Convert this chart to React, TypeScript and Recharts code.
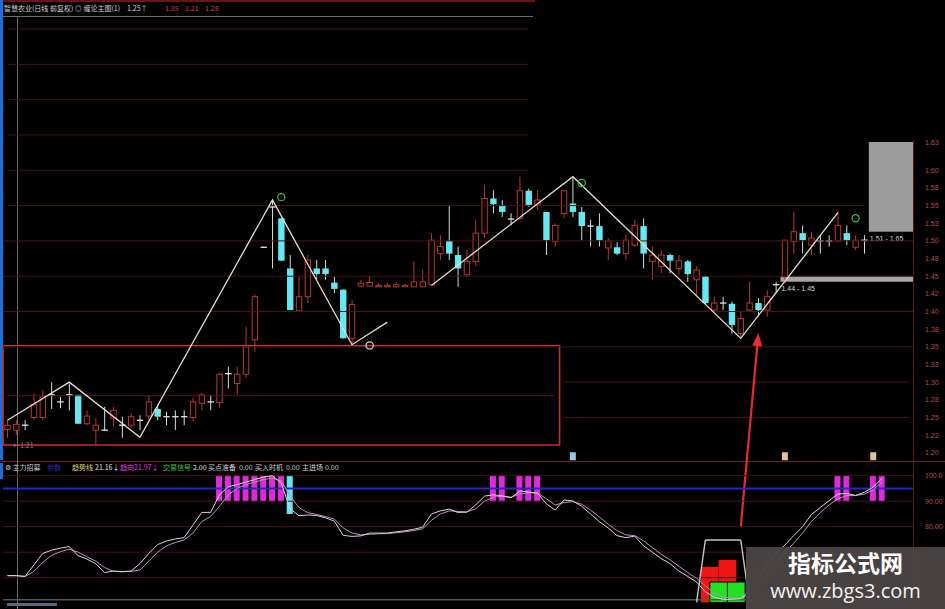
import React from 'react';
import {
  ComposedChart, Bar, Line, XAxis, YAxis, ReferenceLine, ReferenceArea, ReferenceDot, Cell,
} from 'recharts';

// daily candles (index 0 .. 97)
const opens = [1.233, 1.232, 1.239, 1.250, 1.250, 1.282, 1.272, 1.282, 1.282, 1.241,
  1.232, 1.232, 1.249, 1.239, 1.239, 1.246, 1.252, 1.262, 1.251, 1.251,
  1.251, 1.250, 1.270, 1.272, 1.271, 1.312, 1.298, 1.311, 1.360, 1.491,
  1.548, 1.532, 1.461, 1.401, 1.421, 1.461, 1.461, 1.441, 1.431, 1.362,
  1.436, 1.436, 1.435, 1.435, 1.435, 1.435, 1.435, 1.435, 1.438, 1.482,
  1.500, 1.480, 1.452, 1.471, 1.511, 1.560, 1.551, 1.531, 1.532, 1.571,
  1.551, 1.541, 1.499, 1.539, 1.553, 1.541, 1.521, 1.521, 1.490, 1.491,
  1.482, 1.494, 1.521, 1.471, 1.464, 1.480, 1.461, 1.471, 1.445, 1.450,
  1.402, 1.412, 1.411, 1.369, 1.402, 1.412, 1.402, 1.438, 1.449, 1.499,
  1.511, 1.494, 1.500, 1.500, 1.500, 1.511, 1.491, 1.501];
const highs = [1.246, 1.246, 1.246, 1.284, 1.289, 1.300, 1.279, 1.298, 1.282, 1.260,
  1.249, 1.265, 1.265, 1.251, 1.256, 1.253, 1.282, 1.268, 1.258, 1.260,
  1.260, 1.278, 1.285, 1.282, 1.313, 1.322, 1.322, 1.378, 1.424, 1.492,
  1.558, 1.532, 1.480, 1.449, 1.480, 1.473, 1.473, 1.449, 1.431, 1.416,
  1.445, 1.450, 1.440, 1.440, 1.442, 1.439, 1.471, 1.459, 1.511, 1.508,
  1.551, 1.492, 1.487, 1.530, 1.579, 1.572, 1.558, 1.539, 1.591, 1.574,
  1.572, 1.541, 1.525, 1.572, 1.590, 1.548, 1.530, 1.539, 1.504, 1.498,
  1.508, 1.530, 1.532, 1.492, 1.487, 1.482, 1.480, 1.473, 1.464, 1.450,
  1.421, 1.421, 1.414, 1.400, 1.442, 1.419, 1.430, 1.442, 1.501, 1.541,
  1.522, 1.513, 1.508, 1.508, 1.541, 1.522, 1.508, 1.508];
const lows = [1.221, 1.225, 1.232, 1.246, 1.246, 1.262, 1.263, 1.260, 1.241, 1.239,
  1.211, 1.232, 1.237, 1.221, 1.235, 1.232, 1.246, 1.246, 1.239, 1.232,
  1.239, 1.244, 1.260, 1.260, 1.263, 1.291, 1.282, 1.306, 1.343, 1.490,
  1.461, 1.472, 1.402, 1.401, 1.412, 1.445, 1.445, 1.426, 1.362, 1.353,
  1.434, 1.436, 1.435, 1.435, 1.434, 1.435, 1.435, 1.435, 1.438, 1.473,
  1.473, 1.435, 1.449, 1.464, 1.504, 1.539, 1.534, 1.522, 1.530, 1.548,
  1.544, 1.480, 1.492, 1.532, 1.534, 1.501, 1.492, 1.492, 1.473, 1.480,
  1.473, 1.492, 1.461, 1.445, 1.454, 1.454, 1.452, 1.442, 1.423, 1.410,
  1.400, 1.402, 1.369, 1.362, 1.400, 1.393, 1.393, 1.426, 1.440, 1.482,
  1.482, 1.480, 1.482, 1.492, 1.499, 1.494, 1.487, 1.482];
const closes = [1.239, 1.240, 1.239, 1.268, 1.279, 1.282, 1.272, 1.282, 1.241, 1.252,
  1.239, 1.232, 1.260, 1.239, 1.251, 1.246, 1.272, 1.251, 1.251, 1.251,
  1.251, 1.272, 1.282, 1.272, 1.311, 1.312, 1.311, 1.350, 1.421, 1.491,
  1.548, 1.472, 1.402, 1.421, 1.473, 1.453, 1.453, 1.432, 1.362, 1.410,
  1.440, 1.441, 1.437, 1.437, 1.438, 1.437, 1.442, 1.442, 1.501, 1.492,
  1.482, 1.461, 1.471, 1.511, 1.560, 1.552, 1.541, 1.531, 1.571, 1.551,
  1.558, 1.501, 1.522, 1.571, 1.541, 1.521, 1.521, 1.501, 1.500, 1.482,
  1.501, 1.522, 1.482, 1.480, 1.480, 1.472, 1.472, 1.453, 1.459, 1.412,
  1.412, 1.412, 1.381, 1.390, 1.412, 1.402, 1.421, 1.438, 1.501, 1.513,
  1.501, 1.504, 1.500, 1.500, 1.522, 1.501, 1.501, 1.501];

// zigzag pivots [index, price]
const zigFirst = [[0, 1.246], [7, 1.300], [15, 1.222], [30, 1.558], [39, 1.353], [43, 1.385]];
const zigSecond = [[48, 1.437], [64, 1.591], [83, 1.362], [94, 1.540]];

// lower indicator panel
const trendLine = [60.8, 60.8, 60.5, 65.0, 69.5, 70.8, 71.6, 72.2, 68.6, 67.3,
  65.5, 62.0, 62.6, 62.4, 62.6, 65.5, 69.5, 73.0, 74.4, 75.2,
  75.7, 80.6, 85.6, 85.6, 92.5, 95.7, 96.5, 97.5, 98.5, 99.5,
  100.0, 97.0, 87.0, 84.3, 84.6, 84.4, 83.5, 82.2, 76.6, 76.2,
  76.4, 77.5, 77.5, 77.5, 78.0, 78.4, 79.0, 79.8, 85.0, 86.2,
  86.9, 85.6, 85.7, 88.5, 92.0, 92.5, 92.1, 91.3, 94.0, 93.6,
  93.1, 89.0, 86.5, 90.5, 90.1, 88.0, 85.0, 82.0, 79.5, 76.5,
  75.7, 76.3, 72.5, 70.0, 67.5, 65.5, 62.6, 60.5, 58.3, 54.5,
  52.3, 51.5, 51.5, 51.8, 55.0, 60.0, 65.0, 69.5, 72.8, 76.5,
  80.0, 84.8, 87.5, 90.2, 92.8, 93.0, 92.3, 93.5, 95.5, 99.0];
const dirLine = [60.8, 60.8, 60.5, 62.5, 66.0, 68.8, 70.2, 71.2, 70.0, 68.2,
  66.5, 64.0, 62.5, 62.3, 62.5, 63.0, 66.5, 70.0, 72.5, 73.8,
  74.8, 77.5, 82.0, 84.0, 88.0, 92.5, 95.0, 96.5, 97.5, 98.5,
  99.0, 98.0, 92.0, 87.5, 85.5, 84.8, 84.0, 83.0, 79.5, 77.5,
  76.8, 77.0, 77.2, 77.3, 77.6, 78.0, 78.5, 79.2, 82.5, 85.0,
  86.2, 86.0, 85.8, 87.0, 90.0, 91.5, 92.0, 91.6, 92.8, 93.3,
  93.2, 91.0, 88.5, 89.5, 89.8, 88.8, 86.5, 83.8, 81.0, 78.5,
  76.8, 76.5, 74.5, 71.8, 69.2, 67.0, 64.5, 62.0, 59.8, 56.8,
  54.0, 52.5, 52.0, 52.0, 53.5, 57.0, 61.5, 66.0, 69.8, 73.5,
  77.5, 82.0, 85.5, 88.5, 91.0, 92.2, 92.2, 92.8, 94.5, 97.5];
const pinkSignals = [24, 25, 26, 27, 28, 29, 30, 31, 55, 56, 58, 59, 60, 94, 95, 98, 99];
const cyanSignals = [32];

const priceTicks = [1.6387, 1.6, 1.575, 1.55, 1.525, 1.5, 1.475, 1.45, 1.425, 1.4, 1.375, 1.35, 1.325, 1.3, 1.275, 1.25, 1.225, 1.2];
const priceTickLabels = ['1.63', '1.60', '1.58', '1.55', '1.53', '1.50', '1.48', '1.45', '1.42', '1.40', '1.38', '1.35', '1.33', '1.30', '1.28', '1.25', '1.22', '1.20'];
const oscTicks = [100, 90, 80];
const oscTickLabels = ['100.0', '90.00', '80.00'];
const gridFull = [1.5, 1.45, 1.4, 1.35];
const gridLeft = [1.8, 1.75, 1.7, 1.65, 1.6];
const gridRight = [1.3, 1.25];
const oscGrid = [100, 90, 80, 70, 60];

const SLOTS = 103;
const RED = '#b8392f';
const CYAN = '#66e8f0';
const GRID = '#4a1414';

const pivotAt = (list: number[][], i: number) => {
  const hit = list.find(p => p[0] === i);
  return hit ? hit[1] : null;
};

const rows = Array.from({ length: SLOTS }, (_, i) => ({
  i,
  o: opens[i] ?? null,
  h: highs[i] ?? null,
  l: lows[i] ?? null,
  c: closes[i] ?? null,
  range: opens[i] != null ? [lows[i], highs[i]] : null,
  zA: pivotAt(zigFirst, i),
  zB: pivotAt(zigSecond, i),
  trend: trendLine[i] ?? null,
  dir: dirLine[i] ?? null,
  sig: pinkSignals.includes(i) ? [90, 100] : cyanSignals.includes(i) ? [85, 100] : null,
}));

const Candle = (props: any) => {
  const { x, y, width, height, payload } = props;
  if (!payload || payload.o == null) return null;
  const { o, h, l, c } = payload;
  const top = Math.min(y, y + height);
  const bot = Math.max(y, y + height);
  const py = (v: number) => (h === l ? top : top + ((h - v) / (h - l)) * (bot - top));
  const cx = x + width / 2;
  const bw = 6.4;
  const yo = py(o);
  const yc = py(c);
  if (Math.abs(c - o) < 0.0015) {
    const ym = (yo + yc) / 2;
    return (
      <g>
        <line x1={cx} x2={cx} y1={top} y2={bot} stroke="#dcdcdc" />
        <line x1={cx - bw / 2} x2={cx + bw / 2} y1={ym} y2={ym} stroke="#e6e6e6" strokeWidth={1.3} />
      </g>
    );
  }
  const bTop = Math.min(yo, yc);
  const bBot = Math.max(yo, yc);
  if (c > o) {
    return (
      <g>
        <line x1={cx} x2={cx} y1={top} y2={bTop} stroke={RED} />
        <line x1={cx} x2={cx} y1={bBot} y2={bot} stroke={RED} />
        <rect x={cx - bw / 2 + 0.5} y={bTop} width={bw - 1} height={Math.max(bBot - bTop, 1)} fill="#000" stroke={RED} />
      </g>
    );
  }
  return (
    <g>
      <line x1={cx} x2={cx} y1={top} y2={bot} stroke="#c8dede" />
      <rect x={cx - bw / 2} y={bTop} width={bw} height={bBot - bTop} fill={CYAN} />
    </g>
  );
};

const Arrow = (p: any) => {
  const { x1, y1, x2, y2 } = p;
  const ang = Math.atan2(y1 - y2, x1 - x2);
  const len = 13;
  const half = 5;
  const bx = x1 - Math.cos(ang) * len;
  const by = y1 - Math.sin(ang) * len;
  const nx = -Math.sin(ang) * half;
  const ny = Math.cos(ang) * half;
  return (
    <g>
      <line x1={bx} y1={by} x2={x2} y2={y2} stroke="#e82a36" strokeWidth={2.2} />
      <polygon points={`${x1},${y1} ${bx + nx},${by + ny} ${bx - nx},${by - ny}`} fill="#ee2a3a" />
    </g>
  );
};

const IconDot = (color: string) => (p: any) => (
  <rect x={p.cx - 3} y={p.cy - 4} width={6} height={8} fill={color} />
);

const RingDot = (color: string) => (p: any) => (
  <circle cx={p.cx} cy={p.cy} r={3.6} fill="none" stroke={color} strokeWidth={1.2} />
);

const BelowText = (text: string) => (p: any) => {
  const vb = p.viewBox || {};
  return (
    <text x={vb.x + 1} y={vb.y + vb.height + 9} fill="#d6d6d6" fontSize={7} fontFamily="Arial, sans-serif">
      {text}
    </text>
  );
};

const axisTick = { fontSize: 7, fill: '#bf4a4a', fontFamily: 'Arial, sans-serif' };
const cjk = '"Noto Sans CJK SC", "Noto Sans", sans-serif';

const Txt = ({ x, y, c, children, size = 7 }: any) => (
  <span style={{ position: 'absolute', left: x, top: y, color: c, fontSize: size, lineHeight: 1, whiteSpace: 'nowrap', fontFamily: cjk }}>
    {children}
  </span>
);

export default function App() {
  return (
    <div style={{ position: 'absolute', left: 0, top: 0, width: 945, height: 609, background: '#000', overflow: 'hidden' }}>
      <style>{`.mainchart svg.recharts-surface{overflow:visible}`}</style>
      {/* window chrome */}
      <div style={{ position: 'absolute', left: 0, top: 0, width: 535, height: 2, background: '#6a1414' }} />
      <div style={{ position: 'absolute', left: 0, top: 16, width: 533, height: 1, background: '#6c6c6c' }} />
      <div style={{ position: 'absolute', left: 0, top: 0, width: 3, height: 460, background: '#1f6fd8' }} />
      <div style={{ position: 'absolute', left: 0, top: 463, width: 3, height: 16, background: '#1f6fd8' }} />
      <div style={{ position: 'absolute', left: 913, top: 140, width: 1, height: 469, background: '#5a1616' }} />
      <div style={{ position: 'absolute', left: 0, top: 461, width: 945, height: 1, background: '#7a1a1a' }} />
      <div style={{ position: 'absolute', left: 7, top: 603, width: 50, height: 3, background: '#56688a' }} />
      <div style={{ position: 'absolute', left: 17, top: 16, width: 1, height: 593, background: '#6a6a6a' }} />

      <div className="mainchart" style={{ position: 'absolute', left: 0, top: 0 }}>
        <ComposedChart width={945} height={460} data={rows} margin={{ top: 0, right: 0, bottom: 0, left: 3 }}>
          <XAxis dataKey="i" type="category" hide />
          <YAxis
            orientation="right"
            width={32}
            domain={[1.1897, 1.8412]}
            allowDataOverflow
            ticks={priceTicks}
            interval={0}
            axisLine={false}
            tickLine={false}
            tickMargin={6}
            tick={axisTick}
            tickFormatter={(v: number) => priceTickLabels[priceTicks.indexOf(v)] ?? ''}
          />
          {gridFull.map(p => <ReferenceLine key={'g' + p} y={p} stroke={GRID} />)}
          <ReferenceLine segment={[{ x: 0, y: 1.55 }, { x: 97, y: 1.55 }]} stroke={GRID} />
          {gridLeft.map(p => (
            <ReferenceLine key={'gl' + p} segment={[{ x: 0, y: p }, { x: 59, y: p }]} stroke={GRID} />
          ))}
          {gridRight.map(p => (
            <ReferenceLine key={'gr' + p} segment={[{ x: 63, y: p }, { x: 102, y: p }]} stroke={GRID} />
          ))}
          <ReferenceLine segment={[{ x: 0, y: 1.2807 }, { x: 62, y: 1.2807 }]} stroke="#5a1818" />
          <ReferenceArea x1={0} x2={62} y1={1.2109} y2={1.3516} fill="none" stroke="#c8302c" strokeWidth={1.6} ifOverflow="visible" />
          <ReferenceArea x1={98} x2={102} y1={1.513} y2={1.64} fill="#9c9c9c" fillOpacity={1} ifOverflow="visible" label={{ content: BelowText('1.51 - 1.65') }} />
          <ReferenceArea x1={88} x2={102} y1={1.442} y2={1.45} fill="#a6a6a6" fillOpacity={1} ifOverflow="visible" label={{ content: BelowText('1.44 - 1.45') }} />

          <Bar dataKey="range" barSize={7} shape={Candle} isAnimationActive={false} />
          <Line dataKey="zA" connectNulls dot={false} activeDot={false} stroke="#e6dccd" strokeWidth={1.3} isAnimationActive={false} />
          <Line dataKey="zB" connectNulls dot={false} activeDot={false} stroke="#e6dccd" strokeWidth={1.3} isAnimationActive={false} />

          <ReferenceDot x={31} y={1.562} shape={RingDot('#3cc43c')} />
          <ReferenceDot x={65} y={1.582} shape={RingDot('#3cc43c')} />
          <ReferenceDot x={96} y={1.532} shape={RingDot('#3cc43c')} />
          <ReferenceDot x={41} y={1.352} shape={RingDot('#d8d8d8')} />
          <ReferenceDot x={64} y={1.195} shape={IconDot('#9cc4e4')} />
          <ReferenceDot x={88} y={1.195} shape={IconDot('#dcc4a4')} />
          <ReferenceDot x={98} y={1.195} shape={IconDot('#dcc4a4')} />
          <ReferenceLine segment={[{ x: 85, y: 1.3695 }, { x: 83, y: 1.0947 }]} ifOverflow="visible" shape={Arrow} />
        </ComposedChart>
      </div>

      <div style={{ position: 'absolute', left: 0, top: 462 }}>
        <ComposedChart width={945} height={143} data={rows} margin={{ top: 0, right: 0, bottom: 0, left: 3 }}>
          <XAxis dataKey="i" type="category" hide />
          <YAxis
            orientation="right"
            width={32}
            domain={[49.29, 105.37]}
            allowDataOverflow
            ticks={oscTicks}
            interval={0}
            axisLine={false}
            tickLine={false}
            tickMargin={6}
            tick={axisTick}
            tickFormatter={(v: number) => oscTickLabels[oscTicks.indexOf(v)] ?? ''}
          />
          {oscGrid.map(v => <ReferenceLine key={'o' + v} y={v} stroke={GRID} />)}
          <ReferenceLine y={95} stroke="#2a2ab8" strokeWidth={2} />
          <ReferenceLine y={51.3} stroke="#4e584e" strokeWidth={1.5} />
          <Line dataKey="dir" dot={false} activeDot={false} stroke="#c48cc4" strokeWidth={1} isAnimationActive={false} />
          <Line dataKey="trend" dot={false} activeDot={false} stroke="#d6d6d6" strokeWidth={1} isAnimationActive={false} />
          <Bar dataKey="sig" barSize={6} isAnimationActive={false}>
            {rows.map(r => (
              <Cell key={r.i} fill={cyanSignals.includes(r.i) ? CYAN : '#e028e0'} />
            ))}
          </Bar>
          <ReferenceArea x1={79} x2={80} y1={50.3} y2={64.2} fill="#f01414" fillOpacity={1} />
          <ReferenceArea x1={81} x2={82} y1={50.3} y2={67} fill="#f01414" fillOpacity={1} />
          <ReferenceArea x1={80} x2={81} y1={50.3} y2={58.3} fill="#22e022" fillOpacity={1} stroke="#000" />
          <ReferenceArea x1={82} x2={83} y1={50.3} y2={58.3} fill="#22e022" fillOpacity={1} stroke="#000" />
          <ReferenceLine segment={[{ x: 78, y: 50.3 }, { x: 79, y: 74.8 }]} stroke="#c4c4c4" strokeWidth={1.4} />
          <ReferenceLine segment={[{ x: 79, y: 74.8 }, { x: 83, y: 74.8 }]} stroke="#c4c4c4" strokeWidth={1.4} />
          <ReferenceLine segment={[{ x: 83, y: 74.8 }, { x: 84, y: 50.3 }]} stroke="#c4c4c4" strokeWidth={1.4} />
        </ComposedChart>
      </div>

      {/* main header */}
      <Txt x={4} y={5} c="#d4d4d4">智慧农业(日线 前复权) ◎ 缠论主图(1)</Txt>
      <Txt x={127} y={5} c="#d4d4d4">1.25↑</Txt>
      <Txt x={165} y={5} c="#c84848">1.35</Txt>
      <Txt x={185} y={5} c="#c84848">1.21</Txt>
      <Txt x={205} y={5} c="#c84848">1.28</Txt>
      <Txt x={13} y={442} c="#8a8a8a">←1.21</Txt>

      {/* lower header */}
      <Txt x={5} y={464} c="#c8c8c8">⚙ 主力招募</Txt>
      <Txt x={47} y={464} c="#2a2ab0">参数</Txt>
      <Txt x={72} y={464} c="#d8d87a">趋势线</Txt>
      <Txt x={95} y={464} c="#e0e0e0">21.16↓</Txt>
      <Txt x={120} y={464} c="#e040e0">趋向</Txt>
      <Txt x={134} y={464} c="#e040e0">21.97↓</Txt>
      <Txt x={163} y={464} c="#3cc43c">交易信号</Txt>
      <Txt x={193} y={464} c="#e0e0e0">2.00</Txt>
      <Txt x={208} y={464} c="#d0d0d0">买点准备</Txt>
      <Txt x={239} y={464} c="#d0d0d0">0.00</Txt>
      <Txt x={255} y={464} c="#d0d0d0">买入时机</Txt>
      <Txt x={286} y={464} c="#d0d0d0">0.00</Txt>
      <Txt x={302} y={464} c="#d0d0d0">主进场</Txt>
      <Txt x={325} y={464} c="#d0d0d0">0.00</Txt>

      {/* watermark */}
      <div style={{ position: 'absolute', left: 746, top: 547, width: 199, height: 62, background: 'rgba(74,68,68,0.96)' }}>
        <div style={{ position: 'absolute', left: 0, top: 3, width: 199, textAlign: 'center', color: '#fff', fontSize: 23, fontWeight: 700, fontFamily: cjk, lineHeight: 1.1 }}>指标公式网</div>
        <div style={{ position: 'absolute', left: 0, top: 33, width: 199, textAlign: 'center', color: '#f2f2f2', fontSize: 20, fontFamily: '"Open Sans", "DejaVu Sans", sans-serif', lineHeight: 1.1 }}>www.zbgs3.com</div>
      </div>
    </div>
  );
}
